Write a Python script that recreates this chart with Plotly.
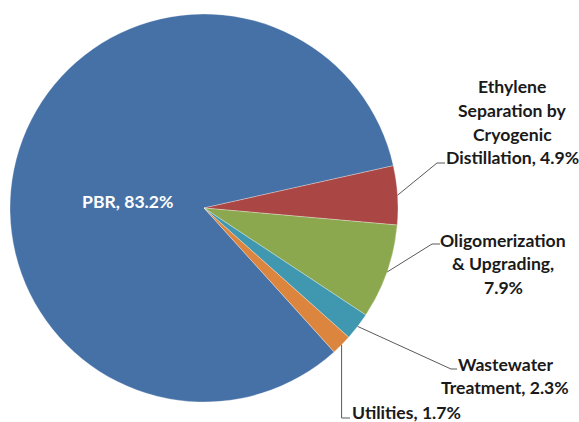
import math
import plotly.graph_objects as go

# Share of total by process area (%)
labels = [
    "PBR",
    "Ethylene Separation by Cryogenic Distillation",
    "Oligomerization & Upgrading",
    "Wastewater Treatment",
    "Utilities",
]
values = [83.2, 4.9, 7.9, 2.3, 1.7]
colors = ["#4671A6", "#AA4644", "#8BA84E", "#3F98B0", "#DC853E"]

W, H = 579, 422
CX, CY, R = 204, 208, 194          # pie centre and radius in pixels
ROTATION = 77.4 - 360 * values[0] / sum(values)   # Ethylene wedge starts ~12.6 deg above horizontal

FONT = "Lato"
FS = 17.6


def px(x):
    return x / W


def py(y):
    return 1 - y / H


def edge_point(i, frac=1.0):
    """Pixel position on the rim (or at frac*R) at the mid-angle of wedge i."""
    total = sum(values)
    before = sum(values[:i])
    theta = math.radians(ROTATION + 360 * (before + values[i] / 2) / total)
    return CX + frac * R * math.sin(theta), CY - frac * R * math.cos(theta)


fig = go.Figure(
    go.Pie(
        labels=labels,
        values=values,
        sort=False,
        direction="clockwise",
        rotation=ROTATION,
        marker=dict(colors=colors, line=dict(color="rgba(255,255,255,0.5)", width=0.6)),
        textinfo="none",
        hoverinfo="label+percent",
        domain=dict(x=[px(CX - R), px(CX + R)], y=[py(CY + R), py(CY - R)]),
        showlegend=False,
    )
)

annotations = []
shapes = []


def text_block(lines, cx, y0, step=23.5, color="#1a1a1a"):
    for k, line in enumerate(lines):
        annotations.append(dict(
            x=px(cx), y=py(y0 + k * step), xref="paper", yref="paper",
            text=line, showarrow=False, xanchor="center", yanchor="middle",
            font=dict(family=FONT, size=FS, color=color, weight="bold"),
        ))


def leader(i, pts):
    x0, y0 = edge_point(i)
    path = f"M {px(x0)} {py(y0)}"
    for (x, y) in pts:
        path += f" L {px(x)} {py(y)}"
    shapes.append(dict(type="path", xref="paper", yref="paper", path=path,
                       line=dict(color="#595959", width=1)))


# PBR label inside the large wedge
text_block([f"PBR, {values[0]}%"], 127, 202, color="white")

# Ethylene separation
text_block(["Ethylene", "Separation by", "Cryogenic", f"Distillation, {values[1]}%"], 512, 87)
leader(1, [(437, 163), (445, 163)])

# Oligomerization
text_block(["Oligomerization", "& Upgrading,", f"{values[2]}%"], 503, 240)
leader(2, [(432, 244), (440, 244)])

# Wastewater
text_block(["Wastewater", f"Treatment, {values[3]}%"], 505, 364)
leader(3, [(451, 369), (457, 369)])

# Utilities
x_u, _ = edge_point(4)
text_block([f"Utilities, {values[4]}%"], 406, 412)
leader(4, [(x_u, 418), (350, 418)])

fig.update_layout(
    width=W, height=H,
    margin=dict(l=0, r=0, t=0, b=0),
    paper_bgcolor="white", plot_bgcolor="white",
    annotations=annotations, shapes=shapes,
)

fig.write_html("out.html")
